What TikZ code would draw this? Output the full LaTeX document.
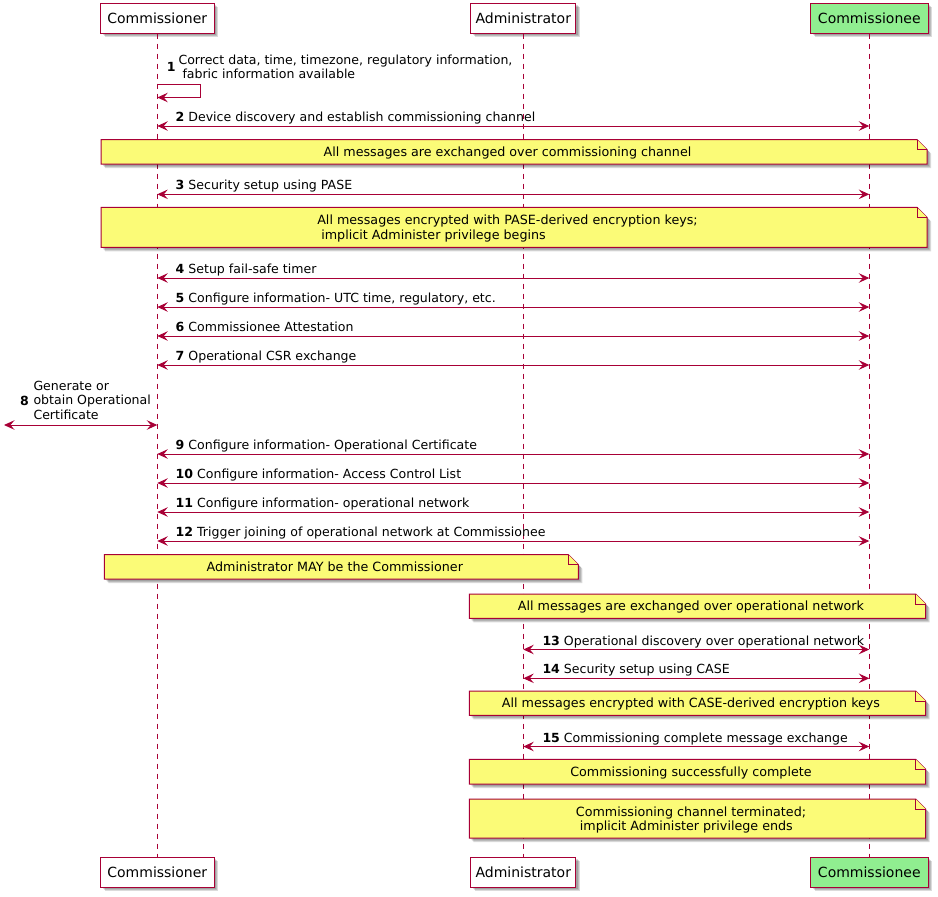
\documentclass[tikz,border=0pt]{standalone}
\usepackage{fontspec}
\setmainfont{DejaVu Sans}
\usetikzlibrary{arrows.meta,shadows}
\definecolor{puml}{HTML}{A80036}
\definecolor{notey}{HTML}{FBFB77}
\definecolor{lgreen}{HTML}{90EE90}
\newcommand\mfont{\fontsize{12.55}{14.5}\selectfont}
\newcommand\nfont{\fontsize{12.7}{14.5}\selectfont}
\newcommand\pfont{\fontsize{14}{16}\selectfont}
\tikzset{
  pumltip/.tip={Stealth[length=10.5pt,width=9.5pt,inset=4pt]},
  shad/.style={general shadow={shadow xshift=#1pt,shadow yshift=-#1pt,fill=black,opacity=0.14}},
  part/.style={draw=puml, line width=1pt, fill=white, font=\pfont, text=black,
    minimum height=30pt, inner sep=0pt, shad=2, shad=3, shad=4},
  life/.style={draw=puml, line width=0.8pt, dash pattern=on 5pt off 5pt},
  msgboth/.style={draw=puml, line width=1pt, pumltip-pumltip},
  msgone/.style={draw=puml, line width=1pt, -pumltip},
  lbl/.style={font=\mfont, inner sep=0pt, anchor=base west, text=black},
  notebg/.style={fill=notey, draw=puml, line width=1pt},
  notetxt/.style={font=\nfont, inner sep=0pt, anchor=base, text=black},
}
\newcommand\notebox[4]{%
  \foreach \s in {2,3,4} {\fill[black,opacity=0.14,shift={(\s,\s)}] (#1,#2) -- (#3-10,#2) -- (#3,#2+10) -- (#3,#4) -- (#1,#4) -- cycle;}
  \draw[notebg] (#1,#2) -- (#3-10,#2) -- (#3,#2+10) -- (#3,#4) -- (#1,#4) -- cycle;
  \draw[notebg] (#3-10,#2) -- (#3-10,#2+10) -- (#3,#2+10);
}
% message between Commissioner and Commissionee
\newcommand\msgCE[4]{%
  \coordinate (#1l) at (157.3,#2); \coordinate (#1r) at (869.3,#2);
  \draw[msgboth] (#1l) -- (#1r);
  \node[lbl] (#1t) at (175.5,#2-4.5) {\textbf{#3} #4};}
% message between Administrator and Commissionee
\newcommand\msgAE[4]{%
  \coordinate (#1l) at (523.3,#2); \coordinate (#1r) at (869.3,#2);
  \draw[msgboth] (#1l) -- (#1r);
  \node[lbl] (#1t) at (542.3,#2-4.5) {\textbf{#3} #4};}
\begin{document}
\begin{tikzpicture}[x=1pt,y=-1pt]
\useasboundingbox (0,0) rectangle (938,897);
% participants
\node[part, minimum width=113.4pt] (pc) at (157.3,18) {Commissioner};
\node[part, minimum width=105pt] (pa) at (523.3,18) {Administrator};
\node[part, minimum width=117.4pt, fill=lgreen] (pe) at (869.3,18) {Commissionee};
\node[part, minimum width=113.4pt] (pcb) at (157.3,872) {Commissioner};
\node[part, minimum width=105pt] (pab) at (523.3,872) {Administrator};
\node[part, minimum width=117.4pt, fill=lgreen] (peb) at (869.3,872) {Commissionee};
% lifelines
\draw[life] (pc) -- (pcb);
\draw[life] (pa) -- (pab);
\draw[life] (pe) -- (peb);
% 1 self message
\coordinate (m1a) at (157.3,84.3);
\coordinate (m1b) at (157.3,97.5);
\draw[msgone] (m1a) -- ++(43,0) -- ++(0,13.2) -- (m1b);
\node[lbl] (m1n) at (166.7,71.5) {\textbf{1}};
\node[lbl] (m1t) at (178.3,78.7) {\begin{tabular}[b]{@{}l@{}}Correct data, time, timezone, regulatory information,\\\hspace*{4pt}fabric information available\end{tabular}};
% 2
\msgCE{m2}{126}{2}{Device discovery and establish commissioning channel}
% note 1
\notebox{101}{139.7}{927}{164}
\node[notetxt] (n1) at (507.5,156.7) {All messages are exchanged over commissioning channel};
% 3
\msgCE{m3}{194.3}{3}{Security setup using PASE}
% note 2
\notebox{101}{207.3}{927}{247.3}
\node[notetxt] (n2) at (507.5,239.3) {\begin{tabular}[b]{@{}l@{}}All messages encrypted with PASE-derived encryption keys;\\\hspace*{4pt}implicit Administer privilege begins\end{tabular}};
% 4-7
\msgCE{m4}{278}{4}{Setup fail-safe timer}
\msgCE{m5}{307}{5}{Configure information- UTC time, regulatory, etc.}
\msgCE{m6}{336}{6}{Commissionee Attestation}
\msgCE{m7}{365}{7}{Operational CSR exchange}
% 8
\coordinate (m8l) at (4,425);
\coordinate (m8r) at (157.3,425);
\draw[msgboth] (m8l) -- (m8r);
\node[lbl] (m8n) at (20,405) {\textbf{8}};
\node[lbl] (m8t) at (33.3,419.3) {\begin{tabular}[b]{@{}l@{}}Generate or\\obtain Operational\\Certificate\end{tabular}};
% 9-12
\msgCE{m9}{454}{9}{Configure information- Operational Certificate}
\msgCE{m10}{483}{10}{Configure information- Access Control List}
\msgCE{m11}{512}{11}{Configure information- operational network}
\msgCE{m12}{541}{12}{Trigger joining of operational network at Commissionee}
% note 3
\notebox{104.3}{554.7}{578.3}{579}
\node[notetxt] (n3) at (334.8,571.5) {Administrator MAY be the Commissioner};
% note 4
\notebox{469.3}{594}{925.7}{618.3}
\node[notetxt] (n4) at (691,610.8) {All messages are exchanged over operational network};
% 13-14
\msgAE{m13}{649.5}{13}{Operational discovery over operational network}
\msgAE{m14}{678.3}{14}{Security setup using CASE}
% note 5
\notebox{469.3}{691}{925.7}{715.3}
\node[notetxt] (n5) at (691,707.8) {All messages encrypted with CASE-derived encryption keys};
% 15
\msgAE{m15}{746.5}{15}{Commissioning complete message exchange}
% note 6
\notebox{469.3}{759.3}{925.7}{784}
\node[notetxt] (n6) at (691,776.3) {Commissioning successfully complete};
% note 7
\notebox{469.3}{799}{925.7}{838}
\node[notetxt] (n7) at (691,830.7) {\begin{tabular}[b]{@{}l@{}}Commissioning channel terminated;\\\hspace*{4pt}implicit Administer privilege ends\end{tabular}};
\end{tikzpicture}
\end{document}
